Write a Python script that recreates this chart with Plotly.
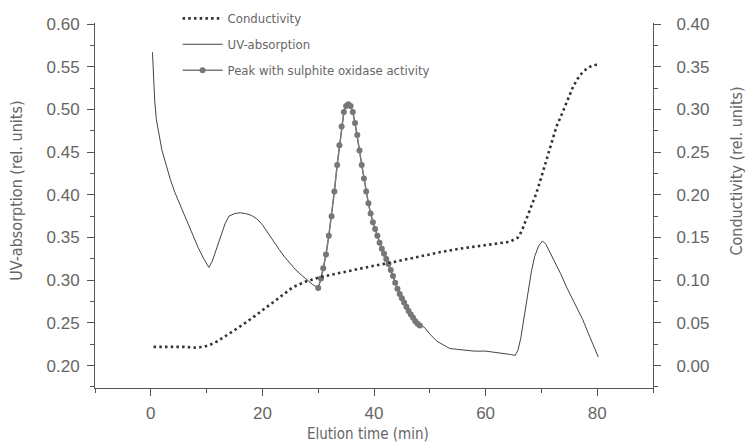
import plotly.graph_objects as go

# ---- data ----
uv_pre_x = [0.3, 0.4, 0.5, 0.7, 1.0, 1.5, 2.0, 2.8, 3.5, 4.3, 5.2, 6.0, 7.0, 7.6, 8.5, 9.5, 10.4,
            11.0, 11.8, 12.6, 13.3, 14.0, 15.0, 16.0, 17.0, 18.0, 19.0, 20.0, 21.0, 22.0, 23.0,
            24.0, 25.0, 26.0, 27.0, 28.0, 29.0, 30.0]
uv_pre_y = [0.567, 0.550, 0.530, 0.510, 0.488, 0.468, 0.452, 0.434, 0.418, 0.403, 0.389, 0.376,
            0.360, 0.351, 0.338, 0.325, 0.315, 0.322, 0.337, 0.352, 0.366, 0.375, 0.378, 0.379,
            0.378, 0.376, 0.372, 0.365, 0.355, 0.345, 0.336, 0.327, 0.319, 0.312, 0.306, 0.300,
            0.295, 0.291]

peak_x = [30.0, 30.5, 30.9, 31.4, 31.9, 32.4, 32.9, 33.4, 33.8, 34.2, 34.6, 35.0, 35.4, 35.8,
          36.2, 36.6, 37.0, 37.4, 37.8, 38.2, 38.6, 39.0, 39.4, 39.8, 40.2, 40.6, 41.0, 41.4,
          41.8, 42.2, 42.6, 43.0, 43.4, 43.8, 44.2, 44.6, 45.0, 45.4, 45.8, 46.2, 46.6, 47.0,
          47.4, 47.8, 48.2]
peak_y = [0.291, 0.302, 0.314, 0.330, 0.352, 0.375, 0.404, 0.435, 0.458, 0.480, 0.497, 0.504,
          0.506, 0.504, 0.497, 0.484, 0.470, 0.452, 0.435, 0.419, 0.404, 0.390, 0.378, 0.368,
          0.360, 0.352, 0.344, 0.337, 0.331, 0.325, 0.319, 0.312, 0.305, 0.297, 0.290, 0.284,
          0.279, 0.274, 0.269, 0.264, 0.260, 0.256, 0.252, 0.249, 0.247]

uv_post_x = [49.0, 50.0, 51.2, 52.5, 53.6, 55.0, 56.6, 58.0, 60.0, 61.3, 63.0, 64.5, 65.3, 65.8,
             66.3, 67.0, 67.6, 68.2, 68.8, 69.5, 70.2, 70.8, 71.5, 72.4, 73.5, 74.5, 75.5, 76.3,
             77.4, 78.4, 79.3, 80.2]
uv_post_y = [0.245, 0.237, 0.229, 0.224, 0.220, 0.219, 0.218, 0.217, 0.217, 0.216, 0.215, 0.213,
             0.212, 0.218, 0.232, 0.260, 0.289, 0.310, 0.328, 0.340, 0.346, 0.342, 0.333, 0.322,
             0.307, 0.292, 0.279, 0.269, 0.254, 0.238, 0.224, 0.210]

cond_x = [0.5, 2, 4, 6, 8, 9.5, 10.5, 11.8, 13, 14.2, 15.5, 16.5, 18, 19.5, 21, 22.5, 25.5, 28,
          30.6, 34, 37.5, 40, 42.5, 46, 49.4, 52, 55.4, 58, 61, 64.3, 65.8, 66.5, 67.3, 68.2,
          69.1, 70, 70.9, 71.8, 72.7, 73.5, 74.2, 75.0, 75.7, 76.5, 77.2, 78, 78.7, 79.6, 80.5]
cond_y = [0.022, 0.022, 0.022, 0.022, 0.021, 0.022, 0.024, 0.028, 0.033, 0.038, 0.044, 0.048,
          0.055, 0.062, 0.070, 0.077, 0.092, 0.099, 0.104, 0.109, 0.114, 0.117, 0.120, 0.125,
          0.130, 0.133, 0.137, 0.139, 0.142, 0.145, 0.150, 0.158, 0.171, 0.186, 0.202, 0.221,
          0.241, 0.260, 0.280, 0.292, 0.303, 0.315, 0.327, 0.336, 0.342, 0.347, 0.350, 0.352,
          0.353]

x_ticks = [0, 20, 40, 60, 80]
left_ticks = [0.20, 0.25, 0.30, 0.35, 0.40, 0.45, 0.50, 0.55, 0.60]
right_ticks = [0.00, 0.05, 0.10, 0.15, 0.20, 0.25, 0.30, 0.35, 0.40]

uv_x = uv_pre_x + peak_x + uv_post_x
uv_y = uv_pre_y + peak_y + uv_post_y

AX = "#555555"
TXT = "#666666"
NARROW = "Liberation Sans Narrow, DejaVu Sans Condensed, Arial Narrow, sans-serif"
REG = "Liberation Sans, Arial, sans-serif"

fig = go.Figure()
fig.add_trace(go.Scatter(x=cond_x, y=cond_y, yaxis="y2", mode="lines", name="Conductivity",
                         legendgroup="a",
                         line=dict(color="#333333", width=2.6, dash="2.5px,3.2px")))
fig.add_trace(go.Scatter(x=uv_x, y=uv_y, mode="lines", name="UV-absorption", legendgroup="b",
                         line=dict(color="#444444", width=1)))
fig.add_trace(go.Scatter(x=peak_x, y=peak_y, mode="lines+markers",
                         name="Peak with sulphite oxidase activity", legendgroup="c",
                         line=dict(color="#7a7a7a", width=1.5),
                         marker=dict(color="#777777", size=6)))

axis_common = dict(showline=True, linecolor=AX, linewidth=1, ticks="outside", ticklen=7,
                   tickcolor=AX, showgrid=False, zeroline=False, automargin=False)

fig.update_layout(
    width=745, height=445,
    margin=dict(l=95, r=92, t=23, b=57, autoexpand=False),
    paper_bgcolor="white", plot_bgcolor="white",
    showlegend=True,
    legend=dict(x=0.148, y=0.808, xref="paper", yref="container", xanchor="left",
                yanchor="bottom", bgcolor="rgba(0,0,0,0)",
                font=dict(family=NARROW, size=13, color=TXT), tracegroupgap=6,
                itemwidth=40),
    xaxis=dict(range=[-10, 90], tickvals=x_ticks, ticktext=[str(v) for v in x_ticks],
               tickfont=dict(family=REG, size=17, color=TXT),
               minor=dict(dtick=10, tick0=0, ticks="outside", ticklen=4, tickcolor=AX),
               ticklabelstandoff=3, **axis_common),
    yaxis=dict(range=[0.1738, 0.6012], tickvals=left_ticks,
               ticktext=[f"{v:.2f}" for v in left_ticks],
               tickfont=dict(family=REG, size=17, color=TXT),
               minor=dict(dtick=0.025, tick0=0, ticks="outside", ticklen=4, tickcolor=AX),
               ticklabelstandoff=4, **axis_common),
    yaxis2=dict(range=[-0.0262, 0.4012], overlaying="y", side="right", tickvals=right_ticks,
                ticktext=[f"{v:.2f}" for v in right_ticks],
                tickfont=dict(family=REG, size=17, color=TXT),
                minor=dict(dtick=0.025, tick0=0, ticks="outside", ticklen=4, tickcolor=AX),
                ticklabelstandoff=12, **axis_common),
    annotations=[
        dict(text="Elution time (min)", xref="paper", yref="paper", x=0.49, y=-0.125,
             xanchor="center", yanchor="middle", showarrow=False,
             font=dict(family=NARROW, size=15, color=TXT)),
        dict(text="UV-absorption (rel. units)", xref="paper", yref="paper",
             x=-0.140, y=0.54, xanchor="center", yanchor="middle", textangle=-90,
             showarrow=False, font=dict(family=NARROW, size=16, color=TXT)),
        dict(text="Conductivity (rel. units)", xref="paper", yref="paper",
             x=1.15, y=0.595, xanchor="center", yanchor="middle", textangle=-90,
             showarrow=False, font=dict(family=NARROW, size=16, color=TXT)),
    ],
)

fig.write_html("out.html")
